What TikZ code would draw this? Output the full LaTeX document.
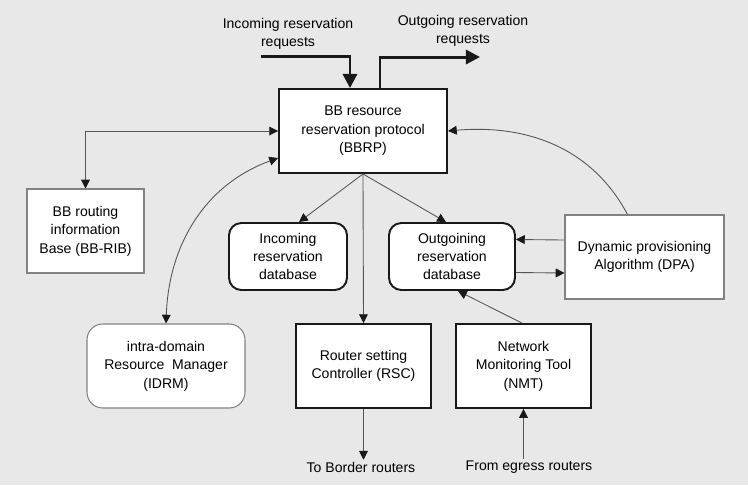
\documentclass[tikz,border=0pt]{standalone}
\usepackage{fontspec}
\setmainfont{Liberation Sans}
\usepackage{tikz}
\usetikzlibrary{arrows.meta, positioning, calc}
\usepackage{xcolor}
\definecolor{BG}{RGB}{232,232,232}
\definecolor{DG}{RGB}{25,25,25}
\definecolor{MG}{RGB}{130,130,130}
\definecolor{LN}{RGB}{85,85,85}

\begin{document}
\begin{tikzpicture}[x=0.02cm, y=-0.02cm,
  font=\fontsize{8}{10.5}\selectfont,
  thickbox/.style={draw=DG, line width=1.1pt, fill=white, align=center, inner sep=2pt},
  thinbox/.style={draw=MG, line width=0.6pt, fill=white, align=center, inner sep=2pt},
  dbbox/.style={thickbox, rounded corners=7pt},
  link/.style={draw=LN, line width=0.5pt, -{Triangle[length=5pt,width=5pt,color=DG]}},
  duallink/.style={draw=LN, line width=0.5pt,
                   {Triangle[length=5pt,width=5pt,color=DG]}-{Triangle[length=5pt,width=5pt,color=DG]}},
  biglink/.style={draw=DG, line width=1.7pt, -{Triangle[length=8pt,width=8pt]}},
  caption/.style={align=center, inner sep=1pt}
]
\fill[BG] (0,0) rectangle (748,485);

\node[thickbox, minimum width=3.36cm, minimum height=1.68cm] (bbrp) at (363,131)
  {BB resource\\reservation protocol\\(BBRP)};
\node[thinbox, minimum width=2.34cm, minimum height=1.68cm] (rib) at (85.5,231)
  {BB routing\\information\\Base (BB-RIB)};
\node[thinbox, rounded corners=9pt, minimum width=3.16cm, minimum height=1.68cm] (idrm) at (166,366)
  {intra-domain\\Resource\ \ Manager\\(IDRM)};
\node[dbbox, minimum width=2.36cm, minimum height=1.34cm] (indb) at (288,256.5)
  {Incoming\\reservation\\database};
\node[dbbox, minimum width=2.52cm, minimum height=1.34cm] (outdb) at (452,256.5)
  {Outgoining\\reservation\\database};
\node[thinbox, minimum width=3.18cm, minimum height=1.68cm] (dpa) at (644.5,257)
  {Dynamic provisioning\\Algorithm (DPA)};
\node[thickbox, minimum width=2.70cm, minimum height=1.68cm] (rsc) at (363.5,366)
  {Router setting\\Controller (RSC)};
\node[thickbox, minimum width=2.70cm, minimum height=1.68cm] (nmt) at (523.5,366)
  {Network\\Monitoring Tool\\(NMT)};

\node[caption] (inreq) at (288,34) {Incoming reservation\\requests};
\node[caption] (outreq) at (463,31) {Outgoing reservation\\requests};
\node[caption] (toB) at (361,467) {To Border routers};
\node[caption] (fromE) at (529,467) {From egress routers};

% request flows
\coordinate (inS) at (261,56);
\coordinate (outE) at (480,57);
\draw[biglink] (inS) -| ($(bbrp.north)+(-13,0)$);
\draw[biglink] ($(bbrp.north)+(17,0)$) |- (outE);

% links round the BBRP
\draw[duallink] (bbrp.west) -| (rib.north);
\draw[duallink] (idrm.north) to[out=88, in=200] ($(bbrp.west)+(0,27)$);
\draw[link] (bbrp.south) -- ($(indb.north)+(11,0)$);
\draw[link] (bbrp.south) -- ($(outdb.north)+(-6,0)$);
\draw[link] (bbrp.south) -- (rsc.north);
\draw[link] ($(dpa.north)+(-17,0)$) to[out=118, in=5] (bbrp.east);

% DPA and database
\draw[link] ($(dpa.west)+(0,-17)$) -- ($(outdb.east)+(0,-17)$);
\draw[link] ($(outdb.east)+(0,16)$) -- ($(dpa.west)+(0,16)$);
\draw[link] ($(nmt.north)+(-1.5,0)$) -- ($(outdb.south)+(6,0)$);

% border routers
\draw[link] (rsc.south) -- (rsc.south |- toB.north);
\draw[link] (nmt.south |- fromE.north) -- (nmt.south);
\end{tikzpicture}
\end{document}
